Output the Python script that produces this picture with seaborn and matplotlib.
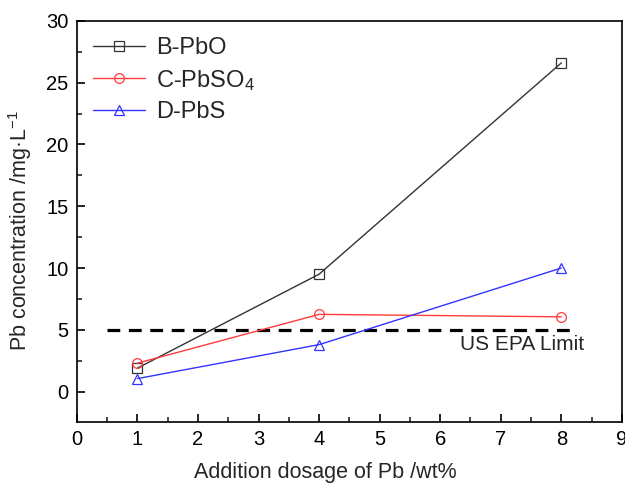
import numpy as np
import pandas as pd
import matplotlib
matplotlib.use("Agg")
import matplotlib.pyplot as plt
import seaborn as sns
from matplotlib.ticker import MultipleLocator

dosage = [1, 4, 8]
b_pbo = [1.9, 9.5, 26.6]
c_pbso4 = [2.3, 6.25, 6.05]
d_pbs = [1.05, 3.8, 10.0]
series_names = ["B-PbO", "C-PbSO$_4$", "D-PbS"]
epa_limit = 5
epa_range = [0.5, 8.2]

sns.set_theme(style="ticks")
plt.rcParams["font.family"] = ["Liberation Sans", "DejaVu Sans"]
plt.rcParams["mathtext.fontset"] = "custom"
plt.rcParams["mathtext.rm"] = "Liberation Sans"
plt.rcParams["mathtext.it"] = "Liberation Sans:italic"
plt.rcParams["mathtext.default"] = "regular"

fig = plt.figure(figsize=(6.25, 4.86), dpi=100)
ax = fig.add_axes([0.123, 0.132, 0.872, 0.825])

styles = [("#333333", "s"), ("#ff3b3b", "o"), ("#3333ff", "^")]
for vals, name, (c, m) in zip([b_pbo, c_pbso4, d_pbs], series_names, styles):
    df = pd.DataFrame({"x": dosage, "y": vals})
    sns.lineplot(data=df, x="x", y="y", ax=ax, color=c, marker=m, markersize=7,
                 markerfacecolor="none", markeredgecolor=c, markeredgewidth=0.9,
                 linewidth=1.0, label=name)

ax.plot(epa_range, [epa_limit, epa_limit], color="black", linestyle=(0, (4, 2.7)),
        linewidth=2.3, zorder=1)
ax.text(8.38, 3.8, "US EPA Limit", ha="right", va="center", fontsize=15)

ax.set_xlim(0, 9)
ax.set_ylim(-2.45, 30)
ax.xaxis.set_major_locator(MultipleLocator(1))
ax.xaxis.set_minor_locator(MultipleLocator(0.5))
ax.yaxis.set_major_locator(MultipleLocator(5))
ax.yaxis.set_minor_locator(MultipleLocator(2.5))
ax.tick_params(which="major", direction="in", length=6, width=1.2, labelsize=14.5,
               colors="black", pad=6)
ax.tick_params(which="minor", direction="in", length=3.5, width=1.2)
for s in ax.spines.values():
    s.set_linewidth(1.2)
    s.set_color("black")

ax.set_xlabel("Addition dosage of Pb /wt%", fontsize=15.5)
ax.xaxis.set_label_coords(0.455, -0.1)
ax.xaxis.label.set_va("top")
ax.set_ylabel("Pb concentration /mg·L$^{-1}$", fontsize=15.5)
ax.yaxis.set_label_coords(-0.079, 0.476)

leg = ax.legend(loc="upper left", frameon=False, fontsize=17, handlelength=2.2,
                borderaxespad=0.3, labelspacing=0.35, handletextpad=0.45,
                bbox_to_anchor=(0.0, 1.0))

fig.savefig("out.png", dpi=100)
